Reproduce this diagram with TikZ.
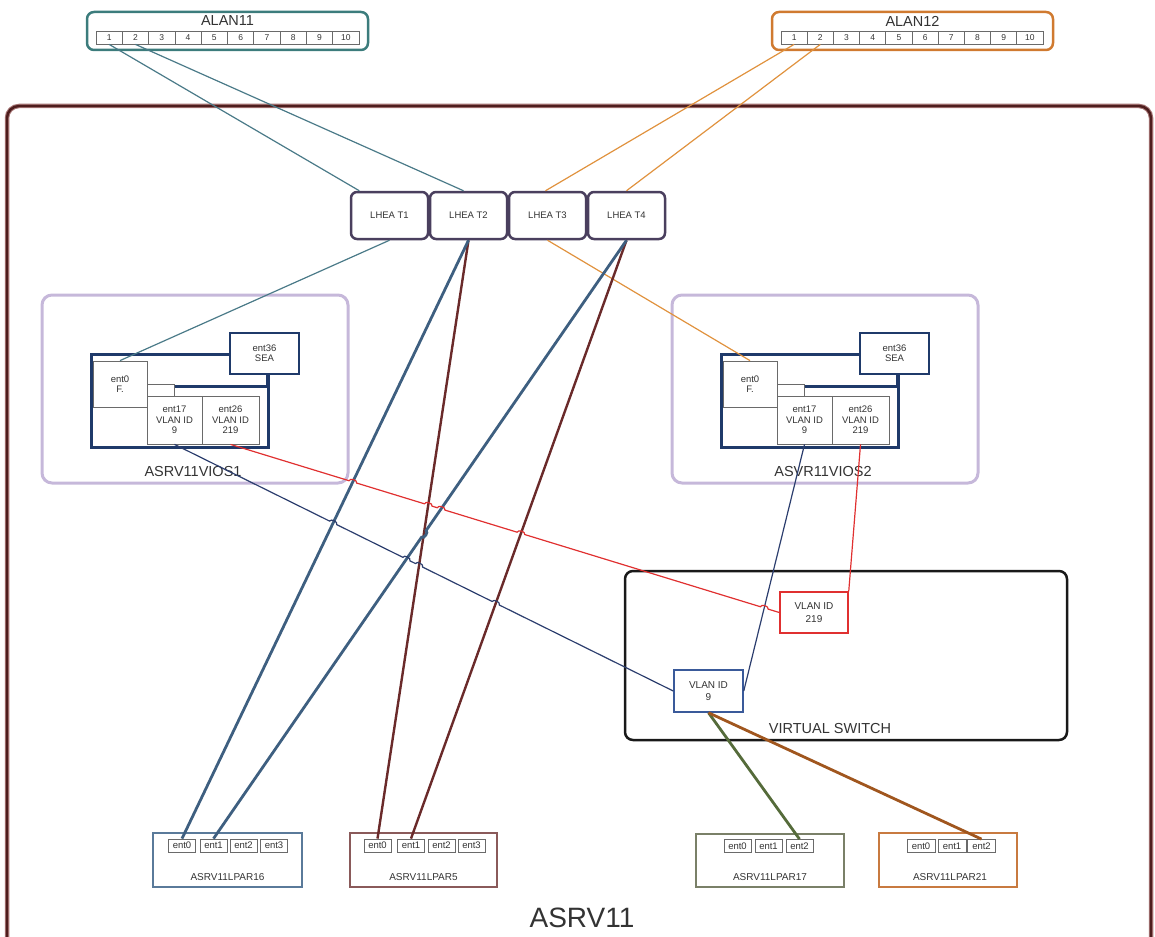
\documentclass[tikz,border=0pt]{standalone}
\usepackage{fontspec}
\setmainfont{Liberation Sans}
\usetikzlibrary{calc,intersections}

\definecolor{txt}{HTML}{333333}
\definecolor{chassis}{HTML}{4E1E1E}
\definecolor{chassisedge}{HTML}{A57474}
\definecolor{teal}{HTML}{3C7C7C}
\definecolor{tealln}{HTML}{4A7A88}
\definecolor{orng}{HTML}{D07A30}
\definecolor{orngln}{HTML}{E0923E}
\definecolor{lhea}{HTML}{4A3F5E}
\definecolor{lav}{HTML}{C6B8DA}
\definecolor{navy}{HTML}{1F3A6A}
\definecolor{cellgray}{HTML}{6A6A6A}
\definecolor{steel}{HTML}{3E5F80}
\definecolor{maroon}{HTML}{6A2A2A}
\definecolor{vred}{HTML}{E03030}
\definecolor{vnavy}{HTML}{2C3E6E}
\definecolor{vblue}{HTML}{3A5A9A}
\definecolor{olive}{HTML}{556B3A}
\definecolor{rust}{HTML}{A0561E}
\definecolor{lp16}{HTML}{5A7A9A}
\definecolor{lp5}{HTML}{8A5A5A}
\definecolor{lp17}{HTML}{7A8068}
\definecolor{lp21}{HTML}{C87A40}

\newcommand{\fs}[2][1.1]{\fontsize{#2}{#1\dimexpr #2pt\relax}\selectfont}
% a line jump over a crossing #1, travelling from #2 towards #3
\newcommand{\hopover}[3]{-- ($(#1)!4pt!(#2)$) to[bend left=90] ($(#1)!4pt!(#3)$)}

\tikzset{
  every node/.style={text=txt, inner sep=0pt, align=center},
  port/.style={draw=cellgray, line width=0.8pt, minimum width=26.3pt, minimum height=13pt, font=\fs{8.5}},
  switchbox/.style={rounded corners=7pt, line width=2.5pt, minimum width=281pt, minimum height=38pt},
  lheabox/.style={draw=lhea, rounded corners=6pt, line width=2.5pt, fill=white,
    minimum width=77pt, minimum height=47pt, font=\fs{9.5}},
  cell/.style={draw=cellgray, line width=0.8pt, fill=white, font=\fs{9.5}},
  entcell/.style={draw=cellgray, line width=0.8pt, fill=white, minimum height=13pt, font=\fs{9.5}},
  lparbox/.style={line width=1.6pt, minimum width=149pt, minimum height=54pt},
  lparlabel/.style={font=\fs{10}},
  vlanbox/.style={line width=1.5pt, fill=white, font=\fs[1.25]{10}},
  thinln/.style={line width=1.2pt},
  thickln/.style={line width=2.8pt},
  bigtitle/.style={font=\fs{14.5}},
}

% one virtual I/O server with its adapters
\newcommand{\vios}[3]{%
  \begin{scope}[xshift=#2]
    \node[draw=lav, line width=3pt, rounded corners=10pt, minimum width=306pt, minimum height=188pt] (#1box) at (195,389) {};
    \node[draw=navy, line width=3pt, minimum width=177pt, minimum height=93pt] (#1frame) at (179.5,400.5) {};
    \node[cell, minimum width=54pt, minimum height=46pt] (#1e0) at (120,384) {ent0\\F.};
    \node[cell, minimum width=55pt, minimum height=48pt] (#1e17) at (174.5,420) {ent17\\VLAN ID\\9};
    \node[cell, minimum width=57pt, minimum height=48pt] (#1e26) at (230.5,420) {ent26\\VLAN ID\\219};
    \node[cell, draw=navy, line width=1.5pt, minimum width=69pt, minimum height=41pt] (#1sea) at (264.5,353.5) {ent36\\SEA};
    \draw[cellgray, line width=1pt] (#1e0.east |- 0,384) -| (#1e17.north);
    \draw[navy, line width=2.2pt] (#1e17.north |- 0,386.5) -| ([xshift=2.5pt]#1sea.south);
    \node[bigtitle] at (193,472) {#3};
  \end{scope}}

\begin{document}
\begin{tikzpicture}[x=1pt, y=-1pt]
\useasboundingbox (0,0) rectangle (1155,936);

% server chassis, running past the lower edge
\begin{scope}
  \clip (0,0) rectangle (1155,936);
  \draw[chassisedge, line width=4.5pt, rounded corners=12pt] (7,106) rectangle (1151,990);
  \draw[chassis, line width=2.4pt, rounded corners=12pt] (7,106) rectangle (1151,990);
\end{scope}
\node[font=\fs{28}] (srv) at (582,918) {ASRV11};

% external switches
\node[switchbox, draw=teal] (a11) at (227.5,31) {};
\node[font=\fs{14.5}] (a11t) at (227.5,21) {ALAN11};
\foreach \i in {1,...,10}
  \node[port] (a11p\i) at ({96+26.3*(\i-0.5)},37.5) {\i};
\node[switchbox, draw=orng] (a12) at (912.5,31) {};
\node[font=\fs{14.5}] (a12t) at (912.5,21) {ALAN12};
\foreach \i in {1,...,10}
  \node[port] (a12p\i) at ({781+26.2*(\i-0.5)},37.5) {\i};

% host Ethernet adapter ports
\node[lheabox] (t1) at (389.5,215.5) {LHEA T1};
\node[lheabox] (t2) at (468.5,215.5) {LHEA T2};
\node[lheabox] (t3) at (547.5,215.5) {LHEA T3};
\node[lheabox] (t4) at (626.5,215.5) {LHEA T4};

% VIO servers
\vios{va}{0}{ASRV11VIOS1}
\vios{vb}{630}{ASVR11VIOS2}

% virtual switch
\node[draw=black!90, line width=2.5pt, rounded corners=8pt, minimum width=442pt, minimum height=169pt] (vsw) at (846,655.5) {};
\node[bigtitle] (vswt) at (830,728) {VIRTUAL SWITCH};
\node[vlanbox, draw=vred, minimum width=68pt, minimum height=41pt] (vl219) at (814,612.5) {VLAN ID\\219};
\node[vlanbox, draw=vblue, minimum width=69pt, minimum height=42pt] (vl9) at (708.5,691) {VLAN ID\\9};

% client partitions
\node[lparbox, draw=lp16] (l16) at (227.5,860) {};
\node[lparlabel] at (227.5,877) {ASRV11LPAR16};
\foreach \n/\x in {0/182,1/213.5,2/243.5,3/274}
  \node[entcell, minimum width=27pt] (l16e\n) at (\x,845.5) {ent\n};

\node[lparbox, draw=lp5, minimum width=147pt] (l5) at (423.5,860) {};
\node[lparlabel] at (423.5,877) {ASRV11LPAR5};
\foreach \n/\x in {0/377.5,1/411,2/441.5,3/471.5}
  \node[entcell, minimum width=27pt] (l5e\n) at (\x,845.5) {ent\n};

\node[lparbox, draw=lp17, minimum width=148pt, minimum height=53pt] (l17) at (770,860.5) {};
\node[lparlabel] at (770,877) {ASRV11LPAR17};
\foreach \n/\x in {0/737.5,1/768.5,2/799.5}
  \node[entcell, minimum width=27pt] (l17e\n) at (\x,846) {ent\n};

\node[lparbox, draw=lp21, minimum width=138pt] (l21) at (948,860) {};
\node[lparlabel] at (950,877) {ASRV11LPAR21};
\foreach \n/\x in {0/921,1/952,2/981.5}
  \node[entcell, minimum width=28pt] (l21e\n) at (\x,846) {ent\n};

% uplinks
\draw[tealln, thinln] (a11p1.south) -- ($(t1.north west)!0.12!(t1.north east)$);
\draw[tealln, thinln] (a11p2.south) -- ([xshift=-5pt]t2.north);
\draw[orngln, thinln] (a12p1.south) -- ([xshift=-2pt]t3.north);
\draw[orngln, thinln] (a12p2.south) -- (t4.north);
\draw[tealln, thinln] (t1.south) -- (vae0.north);
\draw[orngln, thinln] (t3.south) -- (vbe0.north);

% crossing points, for the line jumps
\path[name path=pb2] (t2.south) -- (l16e0.north);
\path[name path=pm2] (t2.south) -- (l5e0.north);
\path[name path=pb4] (t4.south) -- (l16e1.north);
\path[name path=pm4] (t4.south) -- (l5e1.north);
\path[name path=pn1] (vae17.south) -- (vl9.west);
\path[name path=pn2] (vbe17.south) -- (vl9.east);
\path[name path=pr1] (vae26.south) -- (vl219.west);
\path[name intersections={of=pr1 and pb2, by=r1}];
\path[name intersections={of=pr1 and pm2, by=r2}];
\path[name intersections={of=pr1 and pb4, by=r3}];
\path[name intersections={of=pr1 and pm4, by=r4}];
\path[name intersections={of=pr1 and pn2, by=r5}];
\path[name intersections={of=pn1 and pb2, by=n1}];
\path[name intersections={of=pn1 and pb4, by=n2}];
\path[name intersections={of=pn1 and pm2, by=n3}];
\path[name intersections={of=pn1 and pm4, by=n4}];
\path[name intersections={of=pb4 and pm2, by=h1}];
\coordinate (ra) at (vae26.south);
\coordinate (rb) at (vl219.west);
\coordinate (na) at (vae17.south);
\coordinate (nb) at (vl9.west);
\coordinate (ba) at (t4.south);
\coordinate (bb) at (l16e1.north);

% dedicated LHEA links to partitions
\draw[maroon, line width=2.4pt] (t2.south) -- (l5e0.north);
\draw[maroon, line width=2.4pt] (t4.south) -- (l5e1.north);
\draw[steel, thickln] (t2.south) -- (l16e0.north);
\draw[steel, thickln] (ba) \hopover{h1}{ba}{bb} -- (bb);

% VLAN trunks into the virtual switch
\draw[vnavy, thinln] (vbe17.south) -- (vl9.east);
\draw[vnavy, thinln] (na) \hopover{n1}{na}{nb} \hopover{n2}{na}{nb}
  \hopover{n3}{na}{nb} \hopover{n4}{na}{nb} -- (nb);
\draw[vred, thinln] (ra) \hopover{r1}{ra}{rb} \hopover{r2}{ra}{rb}
  \hopover{r3}{ra}{rb} \hopover{r4}{ra}{rb} \hopover{r5}{ra}{rb} -- (rb);
\draw[vred, thinln] (vbe26.south) -- (vl219.north east);

% virtual adapters of the client partitions
\draw[olive, thickln] (vl9.south) -- (l17e2.north);
\draw[rust, thickln] (vl9.south) -- (l21e2.north);
\end{tikzpicture}
\end{document}
